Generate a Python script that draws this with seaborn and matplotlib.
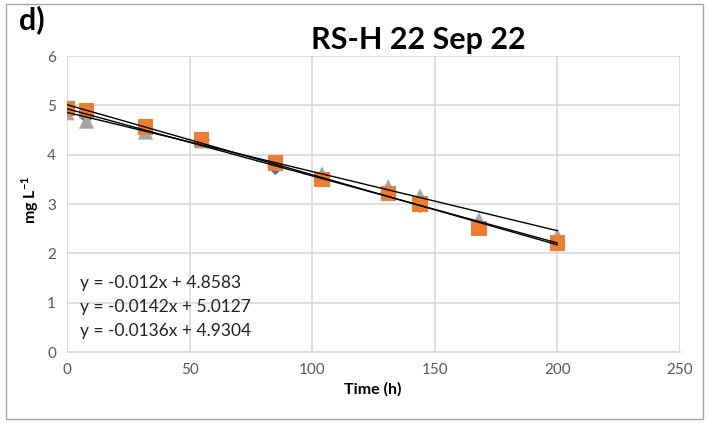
import numpy as np
import pandas as pd
import matplotlib
matplotlib.use("Agg")
import matplotlib.pyplot as plt
import seaborn as sns
from matplotlib.patches import Rectangle

# ---- data ----
time_h = [0, 8, 32, 55, 85, 104, 131, 144, 168, 200]
series_blue = [4.93, 4.78, 4.52, 4.30, 3.75, 3.52, 3.22, 2.98, 2.55, 2.20]
series_orange = [4.93, 4.89, 4.56, 4.30, 3.83, 3.49, 3.22, 3.00, 2.51, 2.21]
series_gray = [4.85, 4.68, 4.46, 4.28, 3.85, 3.61, 3.35, 3.16, 2.68, 2.35]
series_names = ["S1", "S2", "S3"]
slopes = [-0.0142, -0.0136, -0.012]
intercepts = [5.0127, 4.9304, 4.8583]
equation_labels = ["y = -0.012x + 4.8583", "y = -0.0142x + 5.0127", "y = -0.0136x + 4.9304"]
x_ticks = [0, 50, 100, 150, 200, 250]
y_ticks = [0, 1, 2, 3, 4, 5, 6]

colors = {"S1": "#4472C4", "S2": "#ED7D31", "S3": "#A5A5A5"}
markers = {"S1": "D", "S2": "s", "S3": "^"}

sns.set_theme(style="white")
plt.rcParams["font.family"] = ["Lato", "DejaVu Sans"]
plt.rcParams["mathtext.fontset"] = "custom"
plt.rcParams["mathtext.rm"] = "Lato"
plt.rcParams["mathtext.bf"] = "Lato:bold"

df = pd.DataFrame({
    "time": time_h * 3,
    "value": series_blue + series_orange + series_gray,
    "series": ["S1"] * len(time_h) + ["S2"] * len(time_h) + ["S3"] * len(time_h),
})

fig = plt.figure(figsize=(7.1, 4.23), dpi=100)
ax = fig.add_axes([67 / 710, 1 - 352 / 423, (680 - 67) / 710, (352 - 56) / 423])

draw_order = ["S1", "S3", "S2"]
sizes = {"S1": 70, "S2": 120, "S3": 120}
for i, s in enumerate(draw_order):
    sub = df[df["series"] == s]
    sns.scatterplot(data=sub, x="time", y="value", marker=markers[s], color=colors[s],
                    s=sizes[s], edgecolor="none", ax=ax, zorder=3 + i, legend=False)

# trendlines from equations
x_line = np.array([min(time_h), max(time_h)])
for name, m, b in zip(series_names, slopes, intercepts):
    sns.lineplot(x=x_line, y=m * x_line + b, color="black", linewidth=1.0, ax=ax, zorder=10)

ax.set_xlim(0, 250)
ax.set_ylim(0, 6)
ax.set_xticks(x_ticks)
ax.set_yticks(y_ticks)
ax.grid(True, color="#D9D9D9", linewidth=1.2)
ax.set_axisbelow(True)
for sp in ["top", "right", "left"]:
    ax.spines[sp].set_visible(False)
ax.spines["bottom"].set_color("#D9D9D9")
ax.spines["bottom"].set_linewidth(1.2)
ax.tick_params(axis="both", length=0, labelsize=11, labelcolor="#595959")
ax.tick_params(axis="x", pad=8)
ax.tick_params(axis="y", pad=8)
ax.set_xlabel("")
ax.set_ylabel("")

fig.text(373 / 710, 1 - 389 / 423, "Time (h)", ha="center", va="center",
         fontsize=11.5, fontweight="bold", color="black")
fig.text(30 / 710, 1 - 200 / 423, r"mg L$^{\mathbf{-1}}$", ha="center", va="center",
         rotation=90, fontsize=11.5, fontweight="bold", color="black")

fig.text(418 / 710, 1 - 40 / 423, "RS-H 22 Sep 22", ha="center", va="center",
         fontsize=22, fontweight="bold", color="black")
fig.text(19 / 710, 1 - 20 / 423, "d)", ha="left", va="center",
         fontsize=22, fontweight="bold", color="black")

eq_y = [283, 307, 331]
for lab, yy in zip(equation_labels, eq_y):
    fig.text(80 / 710, 1 - yy / 423, lab, ha="left", va="center", fontsize=12.5, color="#222222")

fig.patches.append(Rectangle((6 / 710, 4 / 423), 697 / 710, 415 / 423, transform=fig.transFigure,
                             fill=False, edgecolor="#A6A6A6", linewidth=1.0))

fig.savefig("out.png", dpi=100)
